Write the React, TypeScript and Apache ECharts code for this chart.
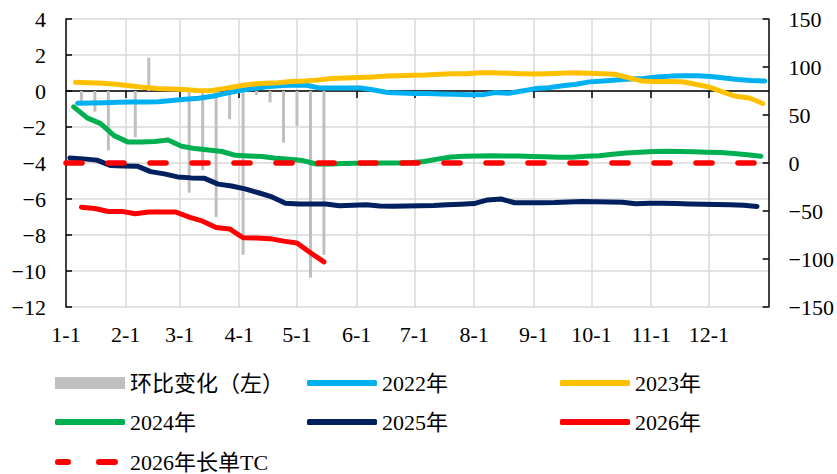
import React, { useEffect, useRef } from "react";
import * as echarts from "echarts";

// ---- data ----
const monthLabels = ["1-1", "2-1", "3-1", "4-1", "5-1", "6-1", "7-1", "8-1", "9-1", "10-1", "11-1", "12-1"];
const monthStartDays = [0, 31, 59, 90, 120, 151, 181, 212, 243, 273, 304, 334];
const DAYS = 366; // day index 0 (Jan 1) .. 365

const leftTicks = { min: -12, max: 4, interval: 2 };
const rightTicks = { min: -150, max: 150, interval: 50 };

// weekly observations: first day index, then one value every 7 days
const firstDay2022 = 6;
const values2022 = [62.3, 62.5, 62.8, 63.2, 63.5, 63.5, 63.8, 65, 66.5, 67.5, 69.5, 72.5, 75.5, 77.5, 79.5, 80.5, 81.3, 81, 78, 78, 78.2, 78.2, 76, 73.5, 72.8, 72.5, 72.3, 72, 71.5, 71, 71, 73.5, 72.6, 75, 77.5, 78.5, 80.5, 82, 84.5, 85.5, 86.5, 87.5, 88, 89.5, 90.5, 91, 90.8, 90.2, 88.5, 87, 86, 85.5];

const firstDay2023 = 5;
const values2023 = [84, 83.5, 83, 82, 80.5, 79, 77.6, 77, 76.5, 75.5, 75.3, 77.5, 80, 82, 83, 83.5, 85, 85.5, 86.5, 88, 88.5, 89, 89.5, 90.5, 91, 91.5, 91.7, 92.5, 93, 93, 94, 94, 93.5, 93, 92.7, 93, 93.5, 94, 93.5, 93, 92.5, 89, 85.5, 85, 85, 84.7, 82, 79.2, 74, 69.5, 67.7, 62];

const firstDay2024 = 4;
const values2024 = [58.5, 47, 41, 28.5, 22, 22, 22.5, 24, 17.5, 15, 13.5, 12, 8, 7.3, 6.8, 5, 4, 2.5, -1, -1, -0.5, -0.3, -0.3, 0, 0, 0.3, 1.5, 4, 6.3, 7, 7.3, 7.5, 7.2, 7.3, 6.8, 6.5, 6, 6, 7, 7.5, 9, 10.3, 11.2, 12, 12.3, 12, 11.8, 11.3, 11, 10, 8.5, 7];

const firstDay2025 = 2;
const values2025 = [5.3, 4.3, 3, -2.5, -3, -3.3, -9, -11.3, -14.5, -15.5, -16, -22, -24, -27, -31, -35.4, -42, -42.7, -42.7, -42.7, -44.5, -44, -43.5, -44.8, -45, -44.8, -44.5, -44.3, -43.5, -43, -42.3, -38.5, -37.5, -41.4, -41.5, -41.4, -41.2, -40.5, -40, -40.3, -40.5, -40.8, -42.5, -42, -42, -42.3, -42.8, -43, -43.2, -43.5, -44, -45.2];

const firstDay2026 = 8;
const values2026 = [-46, -47.4, -50.5, -50.4, -52.9, -51, -51, -51, -56.4, -60.6, -67.2, -68.7, -77.9, -78.1, -78.8, -81.4, -83.3, -93.5, -103];
const weeklyChange2026 = [-0.68, -1.15, -3.3, null, -2.57, 1.85, null, null, -5.65, -4.4, -7.0, -1.57, -9.1, -0.22, -0.63, -2.87, -1.94, -10.37, -9.1];

const ltcDays = [0, 362];
const ltcValues = [0, 0];

const names = {
  bar: "环比变化（左）",
  y2022: "2022年",
  y2023: "2023年",
  y2024: "2024年",
  y2025: "2025年",
  y2026: "2026年",
  ltc: "2026年长单TC",
};

const FONT = "'Liberation Serif', 'Noto Sans CJK SC', serif";
const DASH_ICON =
  "path://M3,0h10a3,3 0 0 1 0,6h-10a3,3 0 0 1 0,-6z M44,0h16a3,3 0 0 1 0,6h-16a3,3 0 0 1 0,-6z M70,3L70,3z";

function spread(first: number, vals: (number | null)[]) {
  const arr: (number | null)[] = new Array(DAYS).fill(null);
  vals.forEach((v, i) => {
    const d = first + 7 * i;
    if (d < DAYS) arr[d] = v;
  });
  return arr;
}

function placed(days: number[], vals: number[]) {
  const arr: (number | null)[] = new Array(DAYS).fill(null);
  days.forEach((d, i) => (arr[d] = vals[i]));
  return arr;
}

export default function App() {
  const ref = useRef<HTMLDivElement>(null);
  useEffect(() => {
    const chart = echarts.init(ref.current!, null, { renderer: "svg" });
    const categories = Array.from({ length: DAYS }, (_, i) => String(i));
    const isMonthStart = (i: number) => monthStartDays.includes(i);
    const minus = (v: number) => String(v).replace("-", "\u2212");
    const textStyle = { fontFamily: FONT, fontSize: 22, color: "#000" };

    const line = (name: string, color: string, data: (number | null)[], z: number, dashed = false) => ({
      name,
      type: "line",
      xAxisIndex: 0,
      yAxisIndex: 1,
      data,
      symbol: "none",
      connectNulls: true,
      z,
      itemStyle: { color },
      lineStyle: {
        color,
        width: dashed ? 5.5 : 5,
        type: dashed ? [16, 26] : "solid",
        cap: "round",
        join: "round",
      },
    });

    const legend = (name: string, left: number, top: number, extra: any = {}) => ({
      data: [name],
      left,
      top,
      padding: 0,
      itemWidth: 70,
      itemHeight: 6,
      icon: "roundRect",
      textStyle,
      selectedMode: false,
      ...extra,
    });

    const option: any = {
      animation: false,
      grid: { left: 66, right: 65, top: 19, bottom: 167 },
      legend: [
        legend(names.bar, 55, 372, { icon: "rect", itemHeight: 12 }),
        legend(names.y2022, 307, 372),
        legend(names.y2023, 560, 372),
        legend(names.y2024, 55, 411),
        legend(names.y2025, 307, 411),
        legend(names.y2026, 560, 411),
        legend(names.ltc, 55, 451, { icon: DASH_ICON }),
      ],
      xAxis: [
        {
          type: "category",
          data: categories,
          boundaryGap: false,
          position: "bottom",
          axisLine: { onZero: true, onZeroAxisIndex: 0, lineStyle: { color: "#000", width: 1.5 } },
          axisTick: { show: true, interval: (i: number) => isMonthStart(i) && i > 0, length: 7, lineStyle: { color: "#000", width: 1.5 } },
          axisLabel: { show: false },
          splitLine: { show: true, interval: (i: number) => isMonthStart(i) && i > 0, lineStyle: { color: "#d9d9d9", width: 1.5 } },
        },
        {
          type: "category",
          data: categories,
          boundaryGap: false,
          position: "bottom",
          axisLine: { show: false, onZero: false },
          axisTick: { show: false },
          splitLine: { show: false },
          axisLabel: {
            show: true,
            interval: (i: number) => isMonthStart(i),
            formatter: (v: string) => {
              const idx = monthStartDays.indexOf(Number(v));
              return idx >= 0 ? monthLabels[idx] : "";
            },
            margin: 16,
            ...textStyle,
          },
        },
      ],
      yAxis: [
        {
          type: "value",
          position: "left",
          ...leftTicks,
          axisLine: { show: true, onZero: false, lineStyle: { color: "#000", width: 1.5 } },
          axisTick: { show: true, inside: true, length: 6, lineStyle: { color: "#000", width: 1.5 } },
          axisLabel: { formatter: minus, margin: 20, ...textStyle },
          splitLine: { show: true, lineStyle: { color: "#d9d9d9", width: 1.5 } },
        },
        {
          type: "value",
          position: "right",
          ...rightTicks,
          axisLine: { show: true, onZero: false, lineStyle: { color: "#000", width: 1.5 } },
          axisTick: { show: true, inside: true, length: 6, lineStyle: { color: "#000", width: 1.5 } },
          axisLabel: { formatter: minus, margin: 20, ...textStyle },
          splitLine: { show: false },
        },
      ],
      series: [
        {
          name: names.bar,
          type: "bar",
          xAxisIndex: 0,
          yAxisIndex: 0,
          data: spread(firstDay2026, weeklyChange2026),
          barWidth: 3,
          itemStyle: { color: "#BFBFBF" },
          z: 1,
        },
        line(names.y2022, "#00B0F0", spread(firstDay2022, values2022), 3),
        line(names.y2023, "#FFC000", spread(firstDay2023, values2023), 4),
        line(names.y2024, "#00B050", spread(firstDay2024, values2024), 5),
        line(names.y2025, "#002060", spread(firstDay2025, values2025), 6),
        line(names.y2026, "#FF0000", spread(firstDay2026, values2026), 7),
        line(names.ltc, "#FF0000", placed(ltcDays, ltcValues), 8, true),
      ],
    };
    chart.setOption(option);
    return () => chart.dispose();
  }, []);
  return <div ref={ref} style={{ position: "absolute", left: 0, top: 0, width: 837, height: 474 }} />;
}
